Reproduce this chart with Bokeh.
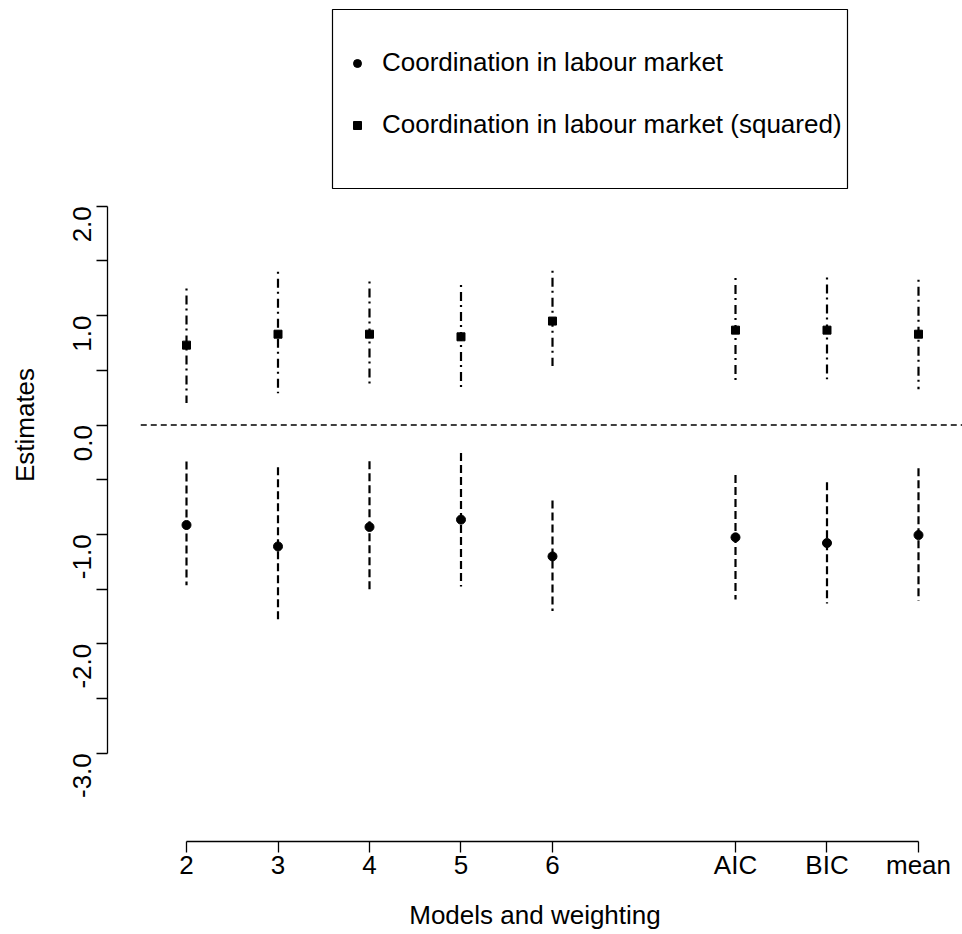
import math
from bokeh.plotting import figure
from bokeh.models import (FixedTicker, Legend, LegendItem, ColumnDataSource, Range1d,
                          BoxAnnotation)
from bokeh.embed import file_html
from bokeh.resources import INLINE

# ---- data ----
models = ["2", "3", "4", "5", "6", "AIC", "BIC", "mean"]
model_pos = [2, 3, 4, 5, 6, 8, 9, 10]

coord_est = [-0.914, -1.110, -0.932, -0.865, -1.201, -1.027, -1.079, -1.006]
coord_lo = [-1.464, -1.784, -1.537, -1.476, -1.699, -1.595, -1.632, -1.607]
coord_hi = [-0.334, -0.386, -0.331, -0.255, -0.691, -0.456, -0.524, -0.395]

sq_est = [0.730, 0.830, 0.830, 0.806, 0.950, 0.867, 0.867, 0.830]
sq_lo = [0.201, 0.290, 0.372, 0.342, 0.540, 0.409, 0.418, 0.327]
sq_hi = [1.248, 1.401, 1.312, 1.279, 1.410, 1.343, 1.349, 1.328]

y_ticks = [-3, -2, -1, 0, 1, 2]
y_tick_labels = ["-3.0", "-2.0", "-1.0", "0.0", "1.0", "2.0"]
y_minor_ticks = [-2.5, -1.5, -0.5, 0.5, 1.5]

reference_value = 0.0
zero_line_start = 1.5   # left edge of the original plot region

label_coord = "Coordination in labour market"
label_sq = "Coordination in labour market (squared)"

# ---- styling / layout ----
FONT = "Liberation Sans"
FS = "26px"
x_start, x_end = 1.1366, 10.4809
y_start, y_end = -3.807, 3.807

p = figure(width=962, height=934, output_backend="svg", toolbar_location=None,
           title=None,
           x_range=Range1d(x_start, x_end), y_range=Range1d(y_start, y_end),
           min_border_left=107, min_border_right=0, min_border_top=8,
           min_border_bottom=93, outline_line_color=None,
           background_fill_color="white", border_fill_color="white")
p.grid.visible = False

# horizontal reference line
p.segment(x0=[zero_line_start], y0=[reference_value], x1=[x_end], y1=[reference_value],
          line_color="black", line_width=1.4, line_dash="6 4")

src_c = ColumnDataSource(dict(x=model_pos, est=coord_est, lo=coord_lo, hi=coord_hi))
src_s = ColumnDataSource(dict(x=model_pos, est=sq_est, lo=sq_lo, hi=sq_hi))

p.segment(x0="x", y0="hi", x1="x", y1="lo", source=src_c,
          line_color="black", line_width=2.2, line_dash="8 4")
p.segment(x0="x", y0="hi", x1="x", y1="lo", source=src_s,
          line_color="black", line_width=2.2, line_dash="2 5 9 4")

r_c = p.scatter("x", "est", source=src_c, marker="circle", size=9,
                fill_color="black", line_color="black", line_width=1)
r_s = p.scatter("x", "est", source=src_s, marker="square", size=8,
                fill_color="black", line_color="black", line_width=1)

# ---- axes ----
yax = p.yaxis[0]
yax.ticker = FixedTicker(ticks=y_ticks, minor_ticks=y_minor_ticks)
yax.major_label_overrides = {float(t): l for t, l in zip(y_ticks, y_tick_labels)}
yax.bounds = (y_ticks[0], y_ticks[-1])
yax.major_label_orientation = math.pi / 2
yax.major_tick_out = 11
yax.major_tick_in = 0
yax.minor_tick_out = 11
yax.minor_tick_in = 0
yax.major_label_standoff = 14
yax.axis_label = "Estimates"
yax.axis_label_standoff = 22

xax = p.xaxis[0]
xax.ticker = FixedTicker(ticks=model_pos)
xax.major_label_overrides = {float(t): l for t, l in zip(model_pos, models)}
xax.bounds = (model_pos[0], model_pos[-1])
xax.major_tick_out = 11
xax.major_tick_in = 0
xax.major_label_standoff = -3
xax.axis_label = "Models and weighting"
xax.axis_label_standoff = 17

for ax in (xax, yax):
    ax.axis_line_color = "black"
    ax.axis_line_width = 1.3
    ax.major_tick_line_color = "black"
    ax.major_tick_line_width = 1.3
    ax.minor_tick_line_color = "black"
    ax.minor_tick_line_width = 1.3
    ax.major_label_text_font = FONT
    ax.major_label_text_font_size = FS
    ax.major_label_text_color = "black"
    ax.axis_label_text_font = FONT
    ax.axis_label_text_font_size = FS
    ax.axis_label_text_font_style = "normal"
    ax.axis_label_text_color = "black"

# ---- legend: framed box (screen units relative to the plot frame) ----
legend_box = BoxAnnotation(left=225, right=740, bottom=653, top=832,
                           left_units="screen", right_units="screen",
                           bottom_units="screen", top_units="screen",
                           fill_color="white", fill_alpha=1.0,
                           line_color="black", line_width=1.2, line_alpha=1.0)
p.add_layout(legend_box)

legend = Legend(items=[LegendItem(label=label_coord, renderers=[r_c]),
                       LegendItem(label=label_sq, renderers=[r_s])],
                location=(240, 701), margin=0, padding=0, spacing=31,
                glyph_width=20, glyph_height=26, label_height=26,
                label_standoff=15,
                label_text_font=FONT, label_text_font_size=FS,
                label_text_color="black",
                border_line_color=None,
                background_fill_alpha=0.0)
p.add_layout(legend)

open("out.html", "w").write(file_html(p, INLINE))
